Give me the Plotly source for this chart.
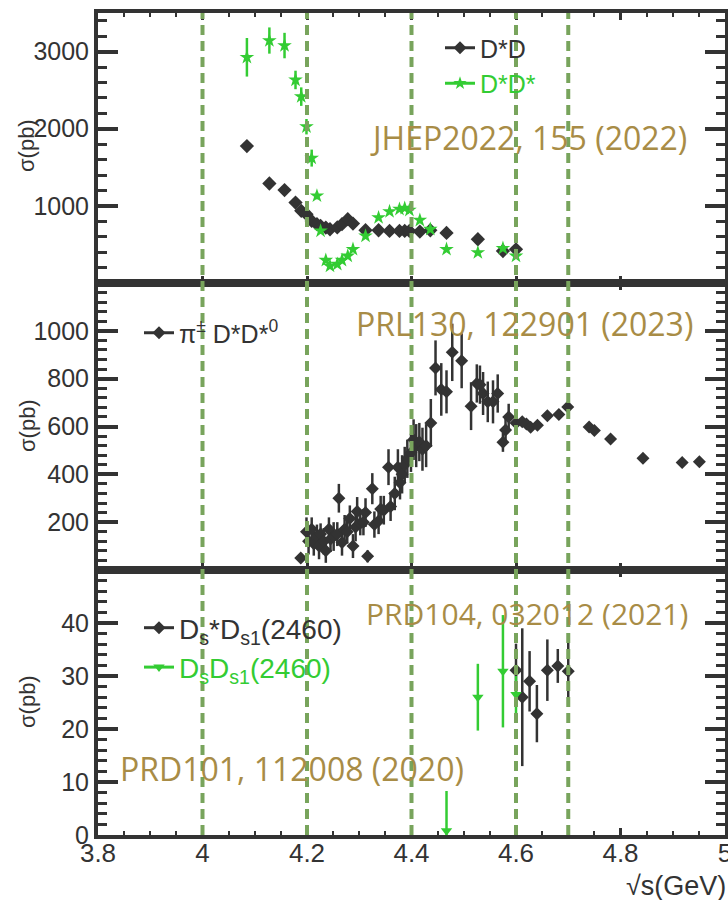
import plotly.graph_objects as go
from plotly.subplots import make_subplots

# ---------------- data ----------------
# Top panel: e+e- -> D*D and D*D* (JHEP2022, 155)
e_top = [4.085, 4.128, 4.157, 4.178, 4.189, 4.199, 4.209, 4.219, 4.226, 4.236,
         4.244, 4.258, 4.267, 4.278, 4.288, 4.312, 4.337, 4.358, 4.377, 4.387,
         4.396, 4.416, 4.436, 4.467, 4.527, 4.575, 4.600]
dsd = [1775, 1290, 1204, 1043, 935, 892, 805, 762, 740, 718,
       697, 720, 762, 827, 770, 684, 684, 675, 675, 675,
       675, 666, 684, 649, 567, 415, 437]
dsd_err = [30, 25, 25, 25, 25, 25, 25, 20, 20, 20,
           20, 20, 20, 20, 20, 20, 20, 20, 20, 20,
           20, 20, 20, 20, 20, 20, 20]
dsds = [2926, 3143, 3078, 2632, 2416, 2026, 1619, 1130, 675, 295,
        220, 243, 295, 350, 437, 610, 848, 926, 957, 970,
        944, 814, 697, 437, 394, 450, 350]
dsds_err = [250, 170, 165, 120, 120, 100, 110, 45, 30, 25,
            25, 25, 25, 25, 25, 25, 25, 25, 25, 25,
            25, 25, 25, 25, 25, 25, 25]

# Middle panel: e+e- -> pi+ D*- D*0 (PRL130, 122901)
e_mid = [4.188, 4.199, 4.203, 4.209, 4.213, 4.219, 4.223, 4.226, 4.232, 4.236,
         4.242, 4.245, 4.251, 4.258, 4.261, 4.267, 4.272, 4.277, 4.282, 4.288,
         4.293, 4.296, 4.302, 4.308, 4.312, 4.316, 4.325, 4.329, 4.337, 4.341,
         4.347, 4.356, 4.360, 4.368, 4.374, 4.378, 4.382, 4.387, 4.392, 4.399,
         4.404, 4.409, 4.415, 4.421, 4.428, 4.437, 4.446, 4.457, 4.467, 4.478,
         4.496, 4.514, 4.525, 4.531, 4.537, 4.546, 4.556, 4.565, 4.575, 4.580,
         4.586, 4.600, 4.612, 4.620, 4.628, 4.641, 4.660, 4.682, 4.699, 4.740,
         4.750, 4.781, 4.843, 4.918, 4.951]
pi_dsds = [50, 160, 120, 170, 110, 140, 100, 150, 120, 80,
           170, 130, 140, 150, 300, 115, 170, 160, 215, 100,
           180, 245, 195, 200, 240, 57, 340, 190, 205, 255,
           250, 430, 265, 320, 430, 365, 400, 440, 465, 490,
           545, 520, 535, 505, 520, 615, 845, 755, 745, 910,
           875, 685, 780, 775, 738, 703, 703, 738, 534, 585,
           640, 615, 620, 610, 597, 605, 645, 650, 682, 598,
           583, 548, 467, 449, 453]
pi_dsds_err = [10, 60, 55, 50, 50, 50, 55, 45, 55, 50,
               50, 55, 60, 50, 60, 55, 60, 50, 55, 50,
               60, 60, 50, 55, 60, 25, 65, 55, 55, 55,
               60, 75, 60, 70, 75, 70, 80, 75, 80, 80,
               85, 90, 80, 90, 90, 100, 115, 110, 90, 120,
               115, 100, 80, 80, 90, 85, 90, 80, 40, 60,
               55, 15, 12, 12, 12, 12, 12, 12, 12, 10,
               10, 10, 10, 10, 10]

# Bottom panel: Ds* Ds1(2460) (PRD104, 032012) and Ds Ds1(2460) (PRD101, 112008)
e_dsstar = [4.600, 4.612, 4.626, 4.640, 4.660, 4.680, 4.700]
dsstar_ds1 = [31.1, 26.0, 29.0, 22.9, 31.1, 31.9, 30.9]
dsstar_ds1_err = [5.0, 13.0, 5.7, 5.4, 5.8, 3.2, 5.8]
e_ds = [4.467, 4.527, 4.575, 4.600]
ds_ds1 = [0.8, 26.0, 30.9, 26.5]
ds_ds1_errp = [7.5, 6.3, 10.6, 3.5]
ds_ds1_errm = [0.8, 6.3, 10.6, 3.5]

vlines = [4.0, 4.2, 4.4, 4.6, 4.7]

BLACK = "#333333"
GREEN = "#33cc33"
GOLD = "#a88c46"
DASH = "#78a45c"
AXFONT = "Liberation Sans"

fig = make_subplots(rows=3, cols=1, shared_xaxes=True, vertical_spacing=0)

def pts(x, y, ep, em, color, symbol, size, row, legend):
    fig.add_trace(go.Scatter(
        x=x, y=y, mode="markers",
        marker=dict(color=color, symbol=symbol, size=size, line=dict(width=0)),
        error_y=dict(type="data", array=ep, arrayminus=em, color=color,
                     thickness=2.5, width=0),
        showlegend=False, legend=legend), row=row, col=1)

def leg(name, color, symbol, row, legend):
    fig.add_trace(go.Scatter(
        x=[None], y=[None], mode="lines+markers", name=name,
        line=dict(color=color, width=3),
        marker=dict(color=color, symbol=symbol, size=10),
        showlegend=True, legend=legend), row=row, col=1)

pts(e_top, dsd, dsd_err, dsd_err, BLACK, "diamond", 11, 1, "legend")
pts(e_top, dsds, dsds_err, dsds_err, GREEN, "star", 11, 1, "legend")
leg("D*D", BLACK, "diamond", 1, "legend")
leg("<span style='color:%s'>D*D*</span>" % GREEN, GREEN, "star", 1, "legend")

pts(e_mid, pi_dsds, pi_dsds_err, pi_dsds_err, BLACK, "diamond", 10, 2, "legend2")
leg("π<sup>±</sup> D*D*<sup>0</sup>", BLACK, "diamond", 2, "legend2")

pts(e_dsstar, dsstar_ds1, dsstar_ds1_err, dsstar_ds1_err, BLACK, "diamond", 10, 3, "legend3")
pts(e_ds, ds_ds1, ds_ds1_errp, ds_ds1_errm, GREEN, "triangle-down", 10, 3, "legend3")
leg("D<sub>s</sub>*D<sub>s1</sub>(2460)", BLACK, "diamond", 3, "legend3")
leg("<span style='color:%s'>D<sub>s</sub>D<sub>s1</sub>(2460)</span>" % GREEN, GREEN, "triangle-down", 3, "legend3")

# dashed vertical reference lines
for v in vlines:
    fig.add_shape(type="line", xref="x3", yref="paper", x0=v, x1=v, y0=0, y1=1,
                  line=dict(color=DASH, width=4, dash="10px,6px"), layer="above")

W, H = 728, 900
L, R, T, B = 98, 3, 13, 65
PW, PH = W - L - R, H - T - B

def px(xp):
    return (xp - L) / PW

def py(yp):
    return (H - B - yp) / PH

yax_common = dict(showline=True, linewidth=4, linecolor=BLACK, mirror="ticks",
                  ticks="inside", ticklen=20, tickwidth=4, tickcolor=BLACK,
                  showgrid=False, zeroline=False, automargin=False,
                  tickfont=dict(family=AXFONT, size=25, color=BLACK))
xax_common = dict(range=[3.8, 5.0], showline=True, linewidth=4, linecolor=BLACK,
                  mirror="ticks", ticks="inside", ticklen=7, tickwidth=3,
                  tickcolor=BLACK, tick0=3.8, dtick=0.2, showgrid=False, zeroline=False,
                  automargin=False, ticklabelstandoff=-8, ticklabeloverflow="allow",
                  minor=dict(ticks="inside", ticklen=4, tickwidth=2, dtick=0.05,
                             tickcolor=BLACK, showgrid=False),
                  tickfont=dict(family=AXFONT, size=26, color=BLACK))

fig.update_layout(
    width=W, height=H,
    margin=dict(l=L, r=R, t=T, b=B, autoexpand=False),
    paper_bgcolor="white", plot_bgcolor="white",
    xaxis=dict(xax_common, showticklabels=False),
    xaxis2=dict(xax_common, showticklabels=False),
    xaxis3=dict(xax_common, showticklabels=True),
    yaxis=dict(yax_common, domain=[py(283), 1], range=[0, 3500],
               tickvals=[1000, 2000, 3000],
               minor=dict(ticks="inside", ticklen=9, tickwidth=3, tickcolor=BLACK,
                          tickmode="linear", tick0=0, dtick=200, showgrid=False)),
    yaxis2=dict(yax_common, domain=[py(570), py(283)], range=[0, 1200],
                tickvals=[200, 400, 600, 800, 1000],
                minor=dict(ticks="inside", ticklen=9, tickwidth=3, tickcolor=BLACK,
                           tickmode="linear", tick0=0, dtick=40, showgrid=False)),
    yaxis3=dict(yax_common, domain=[0, py(570)], range=[0, 50],
                tickvals=[0, 10, 20, 30, 40],
                minor=dict(ticks="inside", ticklen=9, tickwidth=3, tickcolor=BLACK,
                           tickmode="linear", tick0=0, dtick=2, showgrid=False)),
    legend=dict(x=px(440), y=py(25), xanchor="left", yanchor="top",
                bgcolor="rgba(0,0,0,0)", font=dict(family=AXFONT, size=25, color=BLACK),
                tracegroupgap=0, itemwidth=30),
    legend2=dict(x=px(139), y=py(310), xanchor="left", yanchor="top",
                 bgcolor="rgba(0,0,0,0)", font=dict(family=AXFONT, size=25, color=BLACK),
                 itemwidth=30),
    legend3=dict(x=px(139), y=py(603), xanchor="left", yanchor="top",
                 bgcolor="rgba(0,0,0,0)", font=dict(family=AXFONT, size=28, color=BLACK),
                 tracegroupgap=0, itemwidth=30),
)

# reference annotations
refs = [("JHEP2022, 155 (2022)", 528, 137, 32),
        ("PRL130, 122901 (2023)", 524, 323, 32),
        ("PRD104, 032012 (2021)", 527, 613, 30),
        ("PRD101, 112008 (2020)", 292, 768, 32)]
for txt, xp_, yp_, fs in refs:
    fig.add_annotation(text=txt, x=px(xp_), y=py(yp_), xref="paper", yref="paper",
                       showarrow=False, xanchor="center", yanchor="middle",
                       font=dict(family="Open Sans", size=fs, color=GOLD))

for yc in [146, 426, 702]:
    fig.add_annotation(text="σ(pb)", x=px(27), y=py(yc), xref="paper", yref="paper",
                       showarrow=False, textangle=-90, xanchor="center", yanchor="middle",
                       font=dict(family=AXFONT, size=22, color=BLACK))

fig.add_annotation(text="√s(GeV)", x=px(728), y=py(886), xref="paper", yref="paper",
                   showarrow=False, xanchor="right", yanchor="middle",
                   font=dict(family=AXFONT, size=27, color=BLACK))

fig.write_html("out.html")
